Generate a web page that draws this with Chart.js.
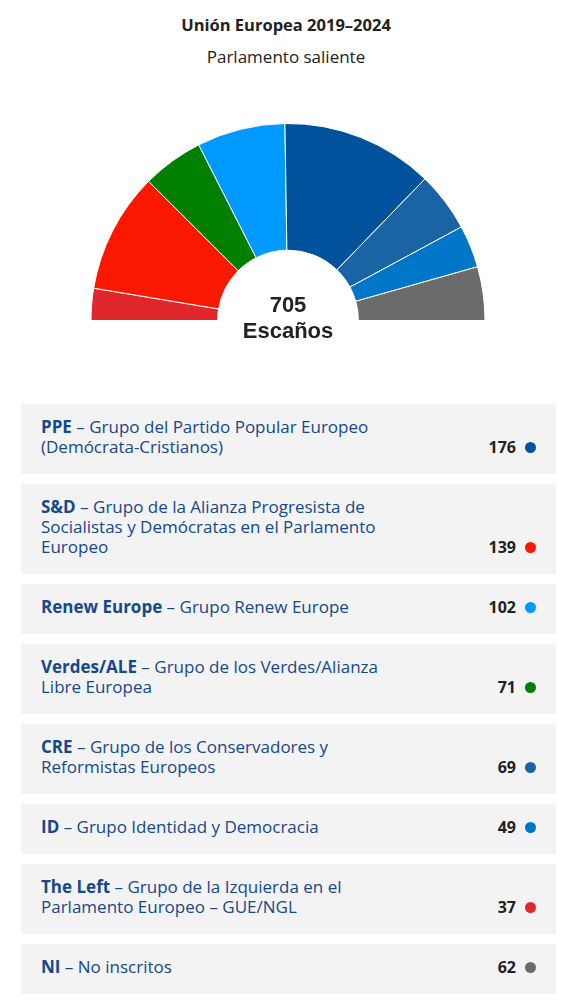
<!DOCTYPE html>
<html lang="es">
<head>
<meta charset="utf-8">
<script src="https://cdn.jsdelivr.net/npm/chart.js@4"></script>
<style>
  html, body { margin: 0; background: #fff; font-family: "Open Sans", "Noto Sans", sans-serif; }
  #page { width: 572px; height: 1004px; }
  h1 { margin: 0; padding-top: 15px; height: 20px; line-height: 20px; text-align: center; font-size: 16.5px; font-weight: 700; color: #222; }
  h2 { margin: 0; margin-top: 12px; height: 20px; line-height: 20px; text-align: center; font-size: 17px; font-weight: 400; color: #222; }
  #chartBox { position: relative; width: 572px; height: 260px; margin-top: 33px; }
  #legend { margin-top: 44px; margin-left: 21px; width: 535px; }
  .item { background: #f3f3f3; padding: 15px 20px; margin-bottom: 10px; display: flex; align-items: flex-end; justify-content: space-between; line-height: 20px; font-size: 17px; }
  .name { color: #16488c; white-space: pre-line; position: relative; top: -2px; }
  .name b { font-weight: 700; }
  .seats { display: flex; align-items: center; font-weight: 700; color: #222; font-size: 16px; position: relative; top: -2px; }
  .dot { display: inline-block; width: 11px; height: 11px; border-radius: 50%; margin-left: 9px; }
</style>
</head>
<body>
<div id="page">
  <h1>Unión Europea 2019–2024</h1>
  <h2>Parlamento saliente</h2>
  <div id="chartBox"><canvas id="hemi"></canvas></div>
  <div id="legend"></div>
</div>
<script>
// groups in legend order
const groups = ["PPE", "S&D", "Renew Europe", "Verdes/ALE", "CRE", "ID", "The Left", "NI"];
const fullNames = [
  "Grupo del Partido Popular Europeo\n(Demócrata-Cristianos)",
  "Grupo de la Alianza Progresista de\nSocialistas y Demócratas en el Parlamento\nEuropeo",
  "Grupo Renew Europe",
  "Grupo de los Verdes/Alianza\nLibre Europea",
  "Grupo de los Conservadores y\nReformistas Europeos",
  "Grupo Identidad y Democracia",
  "Grupo de la Izquierda en el\nParlamento Europeo – GUE/NGL",
  "No inscritos"
];
const seats = [176, 139, 102, 71, 69, 49, 37, 62];
const colors = ["#00529c", "#fa1900", "#0099ff", "#007f00", "#1a64a5", "#0076c8", "#e0282c", "#6b6b6b"];

// seating order in the hemicycle, left to right
const arcOrder = ["The Left", "S&D", "Verdes/ALE", "Renew Europe", "PPE", "CRE", "ID", "NI"];

const totalSeats = seats.reduce((a, b) => a + b, 0);

const idx = arcOrder.map(g => groups.indexOf(g));

const legend = document.getElementById("legend");
groups.forEach((g, i) => {
  const row = document.createElement("div");
  row.className = "item";
  const name = document.createElement("div");
  name.className = "name";
  const b = document.createElement("b");
  b.textContent = g;
  name.appendChild(b);
  name.appendChild(document.createTextNode(" – " + fullNames[i]));
  const s = document.createElement("div");
  s.className = "seats";
  s.textContent = seats[i];
  const dot = document.createElement("span");
  dot.className = "dot";
  dot.style.background = colors[i];
  s.appendChild(dot);
  row.appendChild(name);
  row.appendChild(s);
  legend.appendChild(row);
});

const centerText = {
  id: "centerText",
  afterDraw(chart) {
    const arc = chart.getDatasetMeta(0).data[0];
    const ctx = chart.ctx;
    ctx.save();
    ctx.fillStyle = "#222";
    ctx.textAlign = "center";
    ctx.textBaseline = "middle";
    ctx.font = "bold 22px 'Liberation Sans', Arial, sans-serif";
    ctx.fillText(String(totalSeats), arc.x, arc.y - 15);
    ctx.fillText("Escaños", arc.x, arc.y + 11);
    ctx.restore();
  }
};

new Chart(document.getElementById("hemi"), {
  type: "doughnut",
  data: {
    labels: idx.map(i => groups[i]),
    datasets: [{
      data: idx.map(i => seats[i]),
      backgroundColor: idx.map(i => colors[i]),
      borderColor: "#fff",
      borderWidth: 1
    }]
  },
  options: {
    responsive: true,
    maintainAspectRatio: false,
    animation: false,
    rotation: -90,
    circumference: 180,
    cutout: "35.7%",
    layout: { padding: { left: 90, right: 86, top: 23, bottom: 39 } },
    plugins: { legend: { display: false }, tooltip: { enabled: false } },
    events: []
  },
  plugins: [centerText]
});
</script>
</body>
</html>
